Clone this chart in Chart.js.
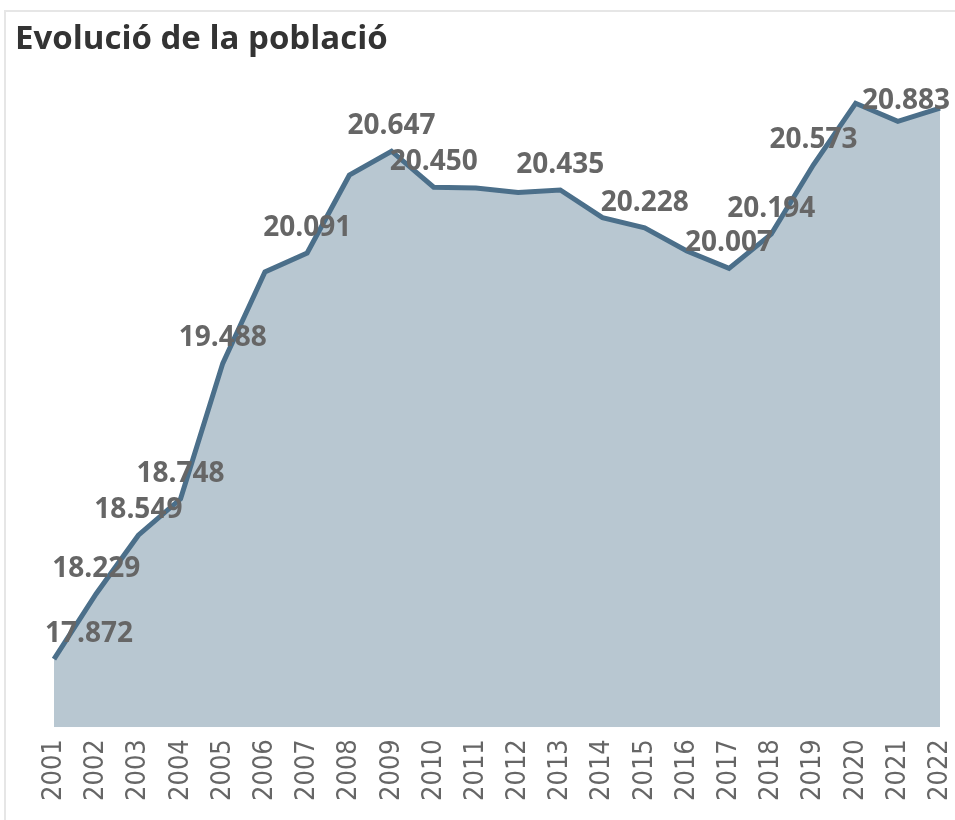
<!DOCTYPE html>
<html>
<head>
<meta charset="utf-8">
<script src="https://cdn.jsdelivr.net/npm/chart.js@4.4.1/dist/chart.umd.min.js"></script>
<style>
  body { margin: 0; background: #fff; }
  #marc { position: absolute; left: 4px; top: 10px; width: 1000px; height: 1000px;
          border-top: 2px solid #e6e6e6; border-left: 2px solid #e6e6e6; }
  #grafica { position: absolute; left: 0; top: 0; }
</style>
</head>
<body>
<div id="marc"></div>
<canvas id="grafica" width="955" height="820"></canvas>
<script>
const anys = ['2001','2002','2003','2004','2005','2006','2007','2008','2009','2010','2011',
              '2012','2013','2014','2015','2016','2017','2018','2019','2020','2021','2022'];
const poblacio = [17.872, 18.229, 18.549, 18.748, 19.488, 19.987, 20.091, 20.516, 20.647, 20.450, 20.446,
                  20.421, 20.435, 20.284, 20.228, 20.102, 20.007, 20.194, 20.573, 20.909, 20.810, 20.883];
// etiquetes visibles
const mostrar = [1,1,1,1,1,0,1,0,1,1,0,0,1,0,1,0,1,1,1,0,0,1];

const etiquetesPunts = {
  id: 'etiquetesPunts',
  afterDatasetsDraw(chart) {
    const ctx = chart.ctx;
    const meta = chart.getDatasetMeta(0);
    ctx.save();
    ctx.font = 'bold 28px "Open Sans"';
    ctx.fillStyle = '#666666';
    ctx.textAlign = 'center';
    ctx.textBaseline = 'middle';
    meta.data.forEach((punt, i) => {
      if (!mostrar[i]) return;
      const text = poblacio[i].toFixed(3);
      const w = ctx.measureText(text).width;
      let x = punt.x;
      let y = punt.y - 25;
      x = Math.max(45 + w / 2, Math.min(950 - w / 2, x));
      y = Math.max(chart.chartArea.top + 14, y);
      ctx.fillText(text, x, y);
    });
    ctx.restore();
  }
};

const ctx = document.getElementById('grafica').getContext('2d');
const chart = new Chart(ctx, {
  type: 'line',
  data: {
    labels: anys,
    datasets: [{
      data: poblacio,
      borderColor: '#4b6f8a',
      backgroundColor: '#b8c7d1',
      borderWidth: 5,
      pointRadius: 0,
      tension: 0,
      fill: 'start'
    }]
  },
  options: {
    responsive: false,
    animation: false,
    layout: { padding: { left: 15, right: 15, top: 5, bottom: 7 } },
    plugins: {
      legend: { display: false },
      tooltip: { enabled: false },
      title: {
        display: true,
        text: 'Evolució de la població',
        align: 'start',
        color: '#333333',
        font: { family: '"Open Sans"', size: 33, weight: 'bold' },
        padding: { top: 15, bottom: 27 }
      }
    },
    scales: {
      x: {
        offset: false,
        grid: { display: false, drawTicks: false },
        border: { display: false },
        ticks: {
          minRotation: 90, maxRotation: 90, padding: 12,
          color: '#666666',
          font: { family: '"Liberation Sans Narrow", "DejaVu Sans Condensed"', size: 27 }
        },
        afterFit(scale) { scale.paddingRight = 0; scale.paddingLeft = 0; }
      },
      y: {
        min: 17.5, max: 21,
        grid: { display: false, drawTicks: false },
        border: { display: false },
        ticks: { display: false },
        afterFit(scale) { scale.width = 39; }
      }
    }
  },
  plugins: [etiquetesPunts]
});
</script>
</body>
</html>
